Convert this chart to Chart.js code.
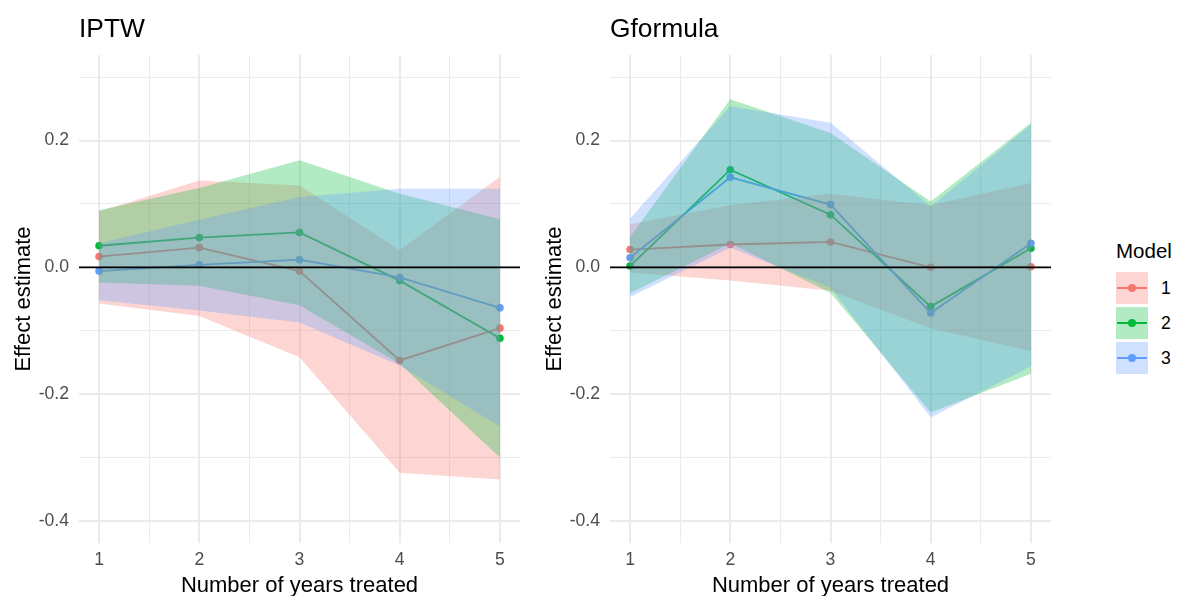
<!DOCTYPE html>
<html>
<head>
<meta charset="utf-8">
<script src="https://cdn.jsdelivr.net/npm/chart.js@4/dist/chart.umd.min.js"></script>
<style>
  html, body { margin: 0; padding: 0; background: #ffffff; overflow: hidden; }
  #wrap { position: relative; width: 1177px; height: 596px; font-family: "Liberation Sans", Arial, sans-serif; }
  #wrap canvas { position: absolute; top: 0; }
  .legend-title { position: absolute; left: 1116px; top: 238px; font-size: 20.5px; line-height: 26px; color: #000; }
  .legend-key { position: absolute; left: 1116px; width: 32px; height: 32px; }
  .legend-key .seg { position: absolute; left: 1px; right: 1px; top: 15px; height: 2px; }
  .legend-key .dot { position: absolute; left: 12px; top: 12px; width: 8px; height: 8px; border-radius: 50%; }
  .legend-label { position: absolute; left: 1161px; font-size: 17.6px; line-height: 20px; color: #000; }
</style>
</head>
<body>
<div id="wrap">
  <canvas id="iptw" width="540" height="596" style="left:0px"></canvas>
  <canvas id="gformula" width="540" height="596" style="left:531px"></canvas>
</div>
<script>
// Number of years treated
const years = [1, 2, 3, 4, 5];
const modelNames = ['1', '2', '3'];
const modelColors = ['#F8766D', '#00BA38', '#619CFF'];

// IPTW: point estimates and interval bounds per model
const iptwEst1 = [0.017, 0.031, -0.006, -0.147, -0.096];
const iptwEst2 = [0.034, 0.047, 0.055, -0.021, -0.112];
const iptwEst3 = [-0.006, 0.004, 0.012, -0.016, -0.064];
const iptwLow1 = [-0.057, -0.077, -0.142, -0.324, -0.335];
const iptwHigh1 = [0.088, 0.137, 0.129, 0.027, 0.143];
const iptwLow2 = [-0.024, -0.029, -0.060, -0.152, -0.300];
const iptwHigh2 = [0.090, 0.125, 0.169, 0.116, 0.076];
const iptwLow3 = [-0.052, -0.068, -0.087, -0.155, -0.251];
const iptwHigh3 = [0.038, 0.075, 0.111, 0.124, 0.124];

// G-formula: point estimates and interval bounds per model
const gformEst1 = [0.028, 0.036, 0.040, 0.000, 0.001];
const gformEst2 = [0.002, 0.154, 0.083, -0.062, 0.030];
const gformEst3 = [0.015, 0.142, 0.099, -0.072, 0.038];
const gformLow1 = [-0.008, -0.021, -0.037, -0.096, -0.132];
const gformHigh1 = [0.068, 0.098, 0.116, 0.098, 0.133];
const gformLow2 = [-0.041, 0.038, -0.040, -0.229, -0.168];
const gformHigh2 = [0.048, 0.265, 0.212, 0.104, 0.228];
const gformLow3 = [-0.047, 0.031, -0.032, -0.237, -0.156];
const gformHigh3 = [0.077, 0.254, 0.228, 0.096, 0.225];

// Reference line and axis breaks
const referenceValue = 0;
const xGridValues = [1, 1.5, 2, 2.5, 3, 3.5, 4, 4.5, 5];
const xTickLabels = ['1', '', '2', '', '3', '', '4', '', '5'];
const yGridValues = [-0.4, -0.3, -0.2, -0.1, 0, 0.1, 0.2, 0.3];
const yTickLabels = ['-0.4', '', '-0.2', '', '0.0', '', '0.2', ''];

const FONT = '"Liberation Sans", Arial, sans-serif';
const X_MIN = 0.8, X_MAX = 5.2, Y_MIN = -0.435, Y_MAX = 0.335;

function rgba(hex, a) {
  const n = parseInt(hex.slice(1), 16);
  return `rgba(${(n >> 16) & 255},${(n >> 8) & 255},${n & 255},${a})`;
}
function toPoints(values) {
  return years.map((yr, i) => ({ x: yr, y: values[i] }));
}

// Panel heading drawn above the plotting area, aligned with its left edge
const panelTitlePlugin = {
  id: 'panelTitle',
  afterDraw(chart, args, opts) {
    const ctx = chart.ctx;
    ctx.save();
    ctx.font = `26.4px ${FONT}`;
    ctx.fillStyle = '#000';
    ctx.textAlign = 'left';
    ctx.textBaseline = 'alphabetic';
    ctx.fillText(opts.text, chart.chartArea.left, 36.5);
    ctx.restore();
  }
};

function buildPanel(canvasId, heading, est, low, high) {
  const datasets = [];
  // horizontal reference at zero, on top of everything
  datasets.push({
    data: [{ x: X_MIN, y: referenceValue }, { x: X_MAX, y: referenceValue }],
    borderColor: '#000000', borderWidth: 1.8, pointRadius: 0, fill: false
  });
  // confidence ribbons (model 3 drawn last, i.e. on top)
  for (let m = 2; m >= 0; m--) {
    datasets.push({
      data: toPoints(high[m]), borderWidth: 0, borderColor: 'rgba(0,0,0,0)',
      pointRadius: 0, backgroundColor: rgba(modelColors[m], 0.3), fill: '+1'
    });
    datasets.push({
      data: toPoints(low[m]), borderWidth: 0, borderColor: 'rgba(0,0,0,0)',
      pointRadius: 0, fill: false
    });
  }
  // estimate lines with points, underneath the ribbons
  for (let m = 2; m >= 0; m--) {
    datasets.push({
      data: toPoints(est[m]), borderColor: modelColors[m], borderWidth: 1.8,
      pointRadius: 3.8, pointBackgroundColor: modelColors[m], pointBorderWidth: 0,
      fill: false
    });
  }

  new Chart(document.getElementById(canvasId), {
    type: 'line',
    data: { datasets },
    plugins: [panelTitlePlugin],
    options: {
      responsive: false,
      animation: false,
      devicePixelRatio: 1,
      events: [],
      elements: { line: { tension: 0 } },
      layout: { padding: { top: 55, left: 0, right: 20, bottom: 0 } },
      plugins: {
        legend: { display: false },
        tooltip: { enabled: false },
        panelTitle: { text: heading }
      },
      scales: {
        x: {
          type: 'linear', min: X_MIN, max: X_MAX,
          afterBuildTicks: s => { s.ticks = xGridValues.map(v => ({ value: v })); },
          afterFit: s => { s.height = 53; },
          border: { display: false },
          grid: {
            color: '#EBEBEB', drawTicks: false,
            lineWidth: c => (c.index % 2 === 0 ? 2 : 1)
          },
          ticks: {
            autoSkip: false, maxRotation: 0, padding: 7, color: '#4D4D4D',
            font: { size: 17.6, family: FONT },
            callback: (v, i) => xTickLabels[i]
          },
          title: {
            display: true, text: 'Number of years treated', color: '#000',
            font: { size: 22, family: FONT }, padding: { top: 0, bottom: -3 }
          }
        },
        y: {
          type: 'linear', min: Y_MIN, max: Y_MAX,
          afterBuildTicks: s => { s.ticks = yGridValues.map(v => ({ value: v })); },
          afterFit: s => { s.width = 79; },
          border: { display: false },
          grid: {
            color: '#EBEBEB', drawTicks: false,
            lineWidth: c => (c.index % 2 === 0 ? 2 : 1)
          },
          ticks: {
            autoSkip: false, padding: 10, color: '#4D4D4D',
            font: { size: 17.6, family: FONT },
            callback: (v, i) => yTickLabels[i]
          },
          title: {
            display: true, text: 'Effect estimate', color: '#000',
            font: { size: 22, family: FONT }, padding: { top: 11, bottom: 0 }
          }
        }
      }
    }
  });
}

buildPanel('iptw', 'IPTW',
  [iptwEst1, iptwEst2, iptwEst3],
  [iptwLow1, iptwLow2, iptwLow3],
  [iptwHigh1, iptwHigh2, iptwHigh3]);

buildPanel('gformula', 'Gformula',
  [gformEst1, gformEst2, gformEst3],
  [gformLow1, gformLow2, gformLow3],
  [gformHigh1, gformHigh2, gformHigh3]);

// Legend: ribbon swatch with line and point for each model
(function buildLegend() {
  const wrap = document.getElementById('wrap');
  const title = document.createElement('div');
  title.className = 'legend-title';
  title.textContent = 'Model';
  wrap.appendChild(title);
  modelNames.forEach((name, i) => {
    const top = 272 + i * 35;
    const key = document.createElement('div');
    key.className = 'legend-key';
    key.style.top = top + 'px';
    key.style.background = rgba(modelColors[i], 0.3);
    const seg = document.createElement('div');
    seg.className = 'seg';
    seg.style.background = modelColors[i];
    const dot = document.createElement('div');
    dot.className = 'dot';
    dot.style.background = modelColors[i];
    key.appendChild(seg);
    key.appendChild(dot);
    wrap.appendChild(key);
    const label = document.createElement('div');
    label.className = 'legend-label';
    label.style.top = (top + 6) + 'px';
    label.textContent = name;
    wrap.appendChild(label);
  });
})();
</script>
</body>
</html>
